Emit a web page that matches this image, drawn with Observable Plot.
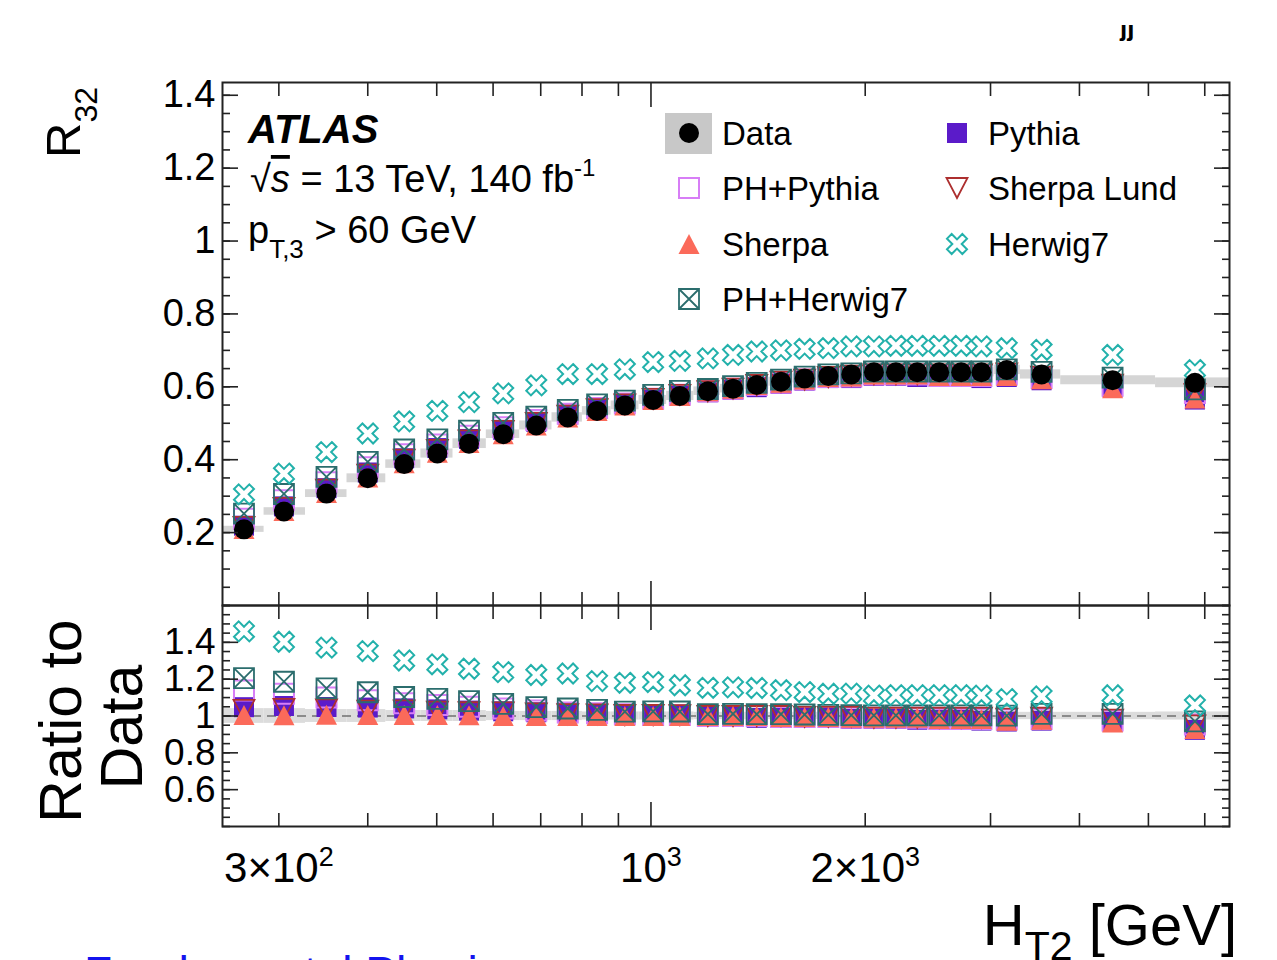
<!DOCTYPE html>
<html>
<head>
<meta charset="utf-8">
<script src="https://cdn.jsdelivr.net/npm/d3@7"></script>
<script src="https://cdn.jsdelivr.net/npm/@observablehq/plot@0.6"></script>
<style>
html, body { margin: 0; padding: 0; background: #fff; }
#wrap { position: relative; width: 1277px; height: 960px; overflow: hidden; background: #fff;
        font-family: "Liberation Sans", Arial, Helvetica, sans-serif; }
#wrap svg { position: absolute; left: 0; top: 0; }
</style>
</head>
<body>
<div id="wrap"></div>
<script>
// ---------------- data ----------------
const htBinCenters = [268, 305, 350, 400, 450, 501, 555, 620, 690, 764, 840, 919, 1007, 1098, 1202, 1304,
  1408, 1523, 1644, 1775, 1912, 2057, 2209, 2367, 2541, 2728, 2913, 3162, 3539, 4453, 5812];
const htBinEdges = [250, 286, 327, 374, 424, 475, 527, 587, 654, 726, 801, 879, 962, 1052, 1149, 1252,
  1355, 1464, 1582, 1708, 1842, 1983, 2132, 2287, 2452, 2633, 2819, 3035, 3304, 3765, 5117, 6500];

const dataR32 = [0.209, 0.258, 0.307, 0.349, 0.388, 0.417, 0.444, 0.470, 0.494, 0.516, 0.534, 0.549, 0.564,
  0.575, 0.588, 0.595, 0.605, 0.614, 0.623, 0.630, 0.634, 0.640, 0.640, 0.640, 0.640, 0.640, 0.640, 0.6465,
  0.634, 0.618, 0.611];
const dataSystRel = [0.04, 0.04, 0.035, 0.035, 0.03, 0.03, 0.03, 0.025, 0.025, 0.025, 0.022, 0.022, 0.022,
  0.022, 0.02, 0.02, 0.02, 0.02, 0.02, 0.02, 0.02, 0.02, 0.02, 0.02, 0.02, 0.02, 0.02, 0.02,
  0.02, 0.02, 0.022];

const pythiaR32 = [0.219, 0.272, 0.322, 0.365, 0.404, 0.432, 0.457, 0.482, 0.504, 0.524, 0.539, 0.552, 0.564,
  0.575, 0.585, 0.592, 0.599, 0.608, 0.617, 0.624, 0.624, 0.630, 0.630, 0.627, 0.627, 0.627, 0.624, 0.627,
  0.618, 0.599, 0.565];
const phPythiaR32 = [0.238, 0.289, 0.338, 0.379, 0.415, 0.442, 0.466, 0.489, 0.509, 0.526, 0.542, 0.554, 0.567,
  0.578, 0.588, 0.595, 0.605, 0.611, 0.620, 0.627, 0.628, 0.634, 0.634, 0.634, 0.630, 0.630, 0.630, 0.634,
  0.624, 0.603, 0.583];
const sherpaR32 = [0.210, 0.259, 0.309, 0.351, 0.390, 0.419, 0.446, 0.470, 0.494, 0.516, 0.534, 0.549, 0.564,
  0.575, 0.588, 0.595, 0.605, 0.611, 0.620, 0.627, 0.628, 0.634, 0.634, 0.634, 0.630, 0.630, 0.630, 0.630,
  0.621, 0.596, 0.568];
const sherpaLundR32 = [0.216, 0.268, 0.318, 0.359, 0.400, 0.427, 0.453, 0.479, 0.501, 0.521, 0.539, 0.552, 0.567,
  0.578, 0.588, 0.595, 0.605, 0.614, 0.620, 0.627, 0.631, 0.634, 0.634, 0.634, 0.634, 0.634, 0.634, 0.637,
  0.628, 0.606, 0.580];
const herwig7R32 = [0.305, 0.362, 0.421, 0.472, 0.505, 0.534, 0.558, 0.582, 0.604, 0.635, 0.635, 0.648, 0.668,
  0.671, 0.678, 0.6875, 0.697, 0.700, 0.704, 0.706, 0.711, 0.711, 0.7125, 0.7125, 0.7125, 0.7125, 0.711, 0.706,
  0.7015, 0.6875, 0.646];
const phHerwig7R32 = [0.252, 0.306, 0.353, 0.394, 0.428, 0.456, 0.480, 0.501, 0.518, 0.537, 0.552, 0.562, 0.578,
  0.589, 0.594, 0.602, 0.611, 0.620, 0.628, 0.634, 0.637, 0.642, 0.642, 0.642, 0.642, 0.642, 0.642, 0.648,
  0.641, 0.625, 0.593];

// axis ticks and tick labels
const xTicksMinor = [300, 400, 500, 600, 700, 800, 900, 2000, 3000, 4000, 5000, 6000];
const xTicksMajor = [1000];
const xTickValues = [300, 1000, 2000];
const xTickMantissa = ["3×10", "10", "2×10"];
const xTickExponent = ["2", "3", "3"];
const r32TicksMajor = [0.2, 0.4, 0.6, 0.8, 1.0, 1.2, 1.4];
const r32TicksMinor = d3.range(0, 29).map(i => +(i * 0.05).toFixed(2));
const ratioTicksMajor = [0.6, 0.8, 1.0, 1.2, 1.4];
const ratioTicksMinor = d3.range(8, 33).map(i => +(i * 0.05).toFixed(2));

// ---------------- marker symbols (ROOT-like) ----------------
const sym = f => ({ draw(c, size) { f(c, Math.sqrt(size / Math.PI)); } });
const symSquare = sym((c, r) => { c.moveTo(-r, -r); c.lineTo(r, -r); c.lineTo(r, r); c.lineTo(-r, r); c.closePath(); });
const symTriUp = sym((c, r) => { c.moveTo(0, -r); c.lineTo(1.05 * r, r); c.lineTo(-1.05 * r, r); c.closePath(); });
const symTriDown = sym((c, r) => { c.moveTo(0, r); c.lineTo(1.05 * r, -r); c.lineTo(-1.05 * r, -r); c.closePath(); });
const symBoxX = sym((c, r) => {
  c.moveTo(-r, -r); c.lineTo(r, -r); c.lineTo(r, r); c.lineTo(-r, r); c.closePath();
  c.moveTo(-r, -r); c.lineTo(r, r); c.moveTo(r, -r); c.lineTo(-r, r);
});
const symOpenX = sym((c, r) => {
  const a = 0.33 * r, b = r * Math.SQRT2 - a;
  const pts = [[-a,-b],[a,-b],[a,-a],[b,-a],[b,a],[a,a],[a,b],[-a,b],[-a,a],[-b,a],[-b,-a],[-a,-a]]
    .map(([x, y]) => [(x - y) / Math.SQRT2, (x + y) / Math.SQRT2]);
  c.moveTo(pts[0][0], pts[0][1]);
  for (const p of pts.slice(1)) c.lineTo(p[0], p[1]);
  c.closePath();
});

const series = [
  {name: "Pythia",      values: pythiaR32,     symbol: symSquare,  fill: "#5b1bc9", stroke: "none",    sw: 0},
  {name: "PH+Pythia",   values: phPythiaR32,   symbol: symSquare,  fill: "none",    stroke: "#d77ef6", sw: 2},
  {name: "Sherpa Lund", values: sherpaLundR32, symbol: symTriDown, fill: "none",    stroke: "#ad2f2f", sw: 1.8},
  {name: "Sherpa",      values: sherpaR32,     symbol: symTriUp,   fill: "#fb6a5a", stroke: "none",    sw: 0},
  {name: "PH+Herwig7",  values: phHerwig7R32,  symbol: symBoxX,    fill: "none",    stroke: "#2b6d6d", sw: 1.8},
  {name: "Herwig7",     values: herwig7R32,    symbol: symOpenX,   fill: "none",    stroke: "#23b1ab", sw: 2}
];
series.forEach(s => {
  s.rows = htBinCenters.map((ht, i) => ({ht, r32: s.values[i], ratio: s.values[i] / dataR32[i]}));
});
const dataRows = htBinCenters.map((ht, i) => ({ht, r32: dataR32[i]}));
const bandRows = htBinCenters.map((ht, i) => ({
  lo: htBinEdges[i], hi: htBinEdges[i + 1],
  y1: dataR32[i] * (1 - dataSystRel[i]), y2: dataR32[i] * (1 + dataSystRel[i]),
  r1: 1 - dataSystRel[i], r2: 1 + dataSystRel[i]
}));

// ---------------- layout ----------------
const W = 1277, H = 960;
const FL = 222, FR = 1229, TOP1 = 82, BOT1 = 605, BOT2 = 826;
const FONT = '"Liberation Sans", Arial, Helvetica, sans-serif';
const style = {background: "transparent", overflow: "visible", fontFamily: FONT, color: "#000"};
const TK = "#222";
const blank = () => "";

function tickAxes(axis, values, anchors, size) {
  const fn = axis === "x" ? Plot.axisX : Plot.axisY;
  return anchors.map(anchor => fn(values, {anchor, tickSize: -size, tickFormat: blank, label: null,
    stroke: TK, strokeWidth: 1.6}));
}

const wrap = document.getElementById("wrap");

const topPlot = Plot.plot({
  width: W, height: H,
  marginTop: TOP1, marginBottom: H - BOT1, marginLeft: FL, marginRight: W - FR,
  style,
  x: {type: "log", domain: [250, 6500]},
  y: {domain: [0, 1.435]},
  marks: [
    Plot.rect(bandRows, {x1: "lo", x2: "hi", y1: "y1", y2: "y2", fill: "#d5d5d5"}),
    ...series.map(s => Plot.dot(s.rows, {x: "ht", y: "r32", symbol: s.symbol, r: 10,
      fill: s.fill, stroke: s.stroke, strokeWidth: s.sw})),
    Plot.dot(dataRows, {x: "ht", y: "r32", symbol: "circle", r: 10, fill: "#000", stroke: "none"}),
    ...tickAxes("y", r32TicksMinor, ["left", "right"], 8),
    ...tickAxes("y", r32TicksMajor, ["left", "right"], 16),
    ...tickAxes("x", xTicksMinor, ["top", "bottom"], 13),
    ...tickAxes("x", xTicksMajor, ["top", "bottom"], 24),
    Plot.axisY(r32TicksMajor, {anchor: "left", tickSize: 0, tickPadding: 7, label: null,
      tickFormat: d => String(+d.toFixed(1)), fontSize: 38, fill: "#000"}),
    Plot.frame({stroke: TK, strokeWidth: 2})
  ]
});
wrap.appendChild(topPlot);

const lowPlot = Plot.plot({
  width: W, height: H,
  marginTop: BOT1, marginBottom: H - BOT2, marginLeft: FL, marginRight: W - FR,
  style,
  x: {type: "log", domain: [250, 6500]},
  y: {domain: [0.4, 1.6]},
  marks: [
    Plot.rect(bandRows, {x1: "lo", x2: "hi", y1: "r1", y2: "r2", fill: "#dcdcdc"}),
    Plot.ruleY([1], {stroke: "#707070", strokeWidth: 1.6, strokeDasharray: "9,6"}),
    ...series.map(s => Plot.dot(s.rows, {x: "ht", y: "ratio", symbol: s.symbol, r: 10,
      fill: s.fill, stroke: s.stroke, strokeWidth: s.sw})),
    ...tickAxes("y", ratioTicksMinor, ["left", "right"], 8),
    ...tickAxes("y", ratioTicksMajor, ["left", "right"], 16),
    ...tickAxes("x", xTicksMinor, ["top", "bottom"], 13),
    ...tickAxes("x", xTicksMajor, ["top", "bottom"], 24),
    Plot.axisY(ratioTicksMajor, {anchor: "left", tickSize: 0, tickPadding: 7, label: null,
      tickFormat: d => String(+d.toFixed(1)), fontSize: 37, fill: "#000"}),
    Plot.axisX(xTickValues, {anchor: "bottom", tickSize: 0, tickPadding: 26, label: null,
      tickFormat: d => xTickMantissa[xTickValues.indexOf(d)], fontSize: 42, fill: "#000"}),
    Plot.frame({stroke: TK, strokeWidth: 2})
  ]
});
wrap.appendChild(lowPlot);

// raise exponents of the x tick labels (ROOT-style superscripts)
d3.select(lowPlot).selectAll("text").each(function () {
  const i = xTickMantissa.indexOf(this.textContent);
  if (i < 0 || this.closest("[aria-label='y-axis tick label']")) return;
  d3.select(this).append("tspan").attr("font-size", 27).attr("dy", "-0.62em").text(xTickExponent[i]);
});

// ---------------- annotations (text, legend) ----------------
const ann = d3.select(wrap).append("svg").attr("width", W).attr("height", H)
  .style("font-family", FONT).style("pointer-events", "none");

// clipped fragment at top right
ann.append("clipPath").attr("id", "clipTop").append("rect").attr("x", 1100).attr("y", 25).attr("width", 177).attr("height", 40);
ann.append("text").attr("clip-path", "url(#clipTop)").attr("x", 1120).attr("y", 36)
  .attr("font-size", 26).attr("font-weight", "bold").text("jj");

// ATLAS block
ann.append("text").attr("x", 248).attr("y", 143).attr("font-size", 40).attr("font-weight", "bold")
  .attr("font-style", "italic").text("ATLAS");
const t2 = ann.append("text").attr("x", 250).attr("y", 192).attr("font-size", 38);
t2.append("tspan").text("√");
t2.append("tspan").attr("font-style", "italic").style("text-decoration", "overline").text("s");
t2.append("tspan").text(" = 13 TeV, 140 fb");
t2.append("tspan").attr("font-size", 24).attr("dy", -16).text("-1");
const t3 = ann.append("text").attr("x", 248).attr("y", 243).attr("font-size", 38);
t3.append("tspan").text("p");
t3.append("tspan").attr("font-size", 26).attr("dy", 15).text("T,3");
t3.append("tspan").attr("dy", -15).text(" > 60 GeV");

// legend
const legendOrder = [
  {name: "Data", col: 0, row: 0}, {name: "Pythia", col: 1, row: 0},
  {name: "PH+Pythia", col: 0, row: 1}, {name: "Sherpa Lund", col: 1, row: 1},
  {name: "Sherpa", col: 0, row: 2}, {name: "Herwig7", col: 1, row: 2},
  {name: "PH+Herwig7", col: 0, row: 3}
];
const markX = [689, 957], textX = [722, 988], rowY = [133, 188, 244, 299];
for (const item of legendOrder) {
  const mx = markX[item.col], my = rowY[item.row];
  if (item.name === "Data") {
    ann.append("rect").attr("x", 665).attr("y", 113).attr("width", 47).attr("height", 41).attr("fill", "#c8c8c8");
    ann.append("circle").attr("cx", mx).attr("cy", my).attr("r", 10).attr("fill", "#000");
  } else {
    const s = series.find(d => d.name === item.name);
    ann.append("path").attr("transform", `translate(${mx},${my})`)
      .attr("d", d3.symbol(s.symbol, Math.PI * 100)())
      .attr("fill", s.fill).attr("stroke", s.stroke).attr("stroke-width", s.sw);
  }
  ann.append("text").attr("x", textX[item.col]).attr("y", my + 11.5).attr("font-size", 33).text(item.name);
}

// axis titles
const yt = ann.append("text").attr("transform", "translate(80,87) rotate(-90)")
  .attr("text-anchor", "end").attr("font-size", 49);
yt.append("tspan").text("R");
yt.append("tspan").attr("font-size", 32).attr("dy", 17).text("32");

ann.append("text").attr("transform", "translate(81,721) rotate(-90)").attr("text-anchor", "middle")
  .attr("font-size", 59).text("Ratio to");
ann.append("text").attr("transform", "translate(142,727) rotate(-90)").attr("text-anchor", "middle")
  .attr("font-size", 59).text("Data");

const xt = ann.append("text").attr("x", 1237).attr("y", 945).attr("text-anchor", "end").attr("font-size", 58);
xt.append("tspan").text("H");
xt.append("tspan").attr("font-size", 41).attr("dy", 15).text("T2");
xt.append("tspan").attr("dy", -15).text(" [GeV]");

// cut-off blue caption at the bottom
ann.append("text").attr("x", 84).attr("y", 989).attr("font-size", 46).attr("fill", "#1414ee")
  .text("Fundamental Physics");
</script>
</body>
</html>
